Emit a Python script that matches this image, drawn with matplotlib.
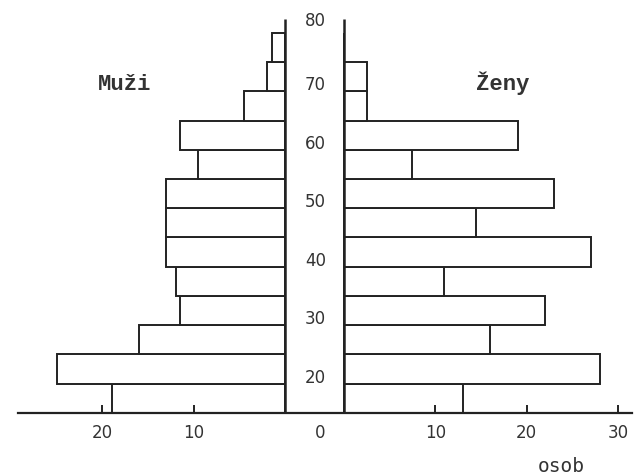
import matplotlib.pyplot as plt

# vekove skupiny (spodni hranice, po 5 letech)
vek = [15, 20, 25, 30, 35, 40, 45, 50, 55, 60, 65, 70, 75]
muzi = [19, 25, 16, 11.5, 12, 13, 13, 13, 9.5, 11.5, 4.5, 2, 1.5]
zeny = [13, 28, 16, 22, 11, 27, 14.5, 23, 7.5, 19, 2.5, 2.5, 0]

vek_popisky = [20, 30, 40, 50, 60, 70, 80]
osa_x_hodnoty = [20, 10, 0, 10, 20, 30]

mezera = 3.2      # polovina mezery mezi obema polovinami
barva = '#222222'

fig = plt.figure(figsize=(6.42, 4.75), dpi=100)
ax = fig.add_axes([0, 0, 1, 1])

ax.barh(vek, [-m for m in muzi], left=-mezera, height=5, align='edge',
        facecolor='white', edgecolor=barva, linewidth=1.4)
ax.barh(vek, zeny, left=mezera, height=5, align='edge',
        facecolor='white', edgecolor=barva, linewidth=1.4)

# svisle osy uprostred
ax.vlines([-mezera, mezera], 15, 82.4, color=barva, linewidth=1.8)

ax.set_xlim(-34.4, 35.8)
ax.set_ylim(4.4, 85.6)

for s in ['left', 'right', 'top']:
    ax.spines[s].set_visible(False)
ax.spines['bottom'].set_position(('data', 15))
ax.spines['bottom'].set_bounds(-32.4, 34.7)
ax.spines['bottom'].set_color(barva)
ax.spines['bottom'].set_linewidth(1.6)

pozice = []
for i, h in enumerate(osa_x_hodnoty):
    if i < 2:
        pozice.append(-mezera - h)
    elif i == 2:
        pozice.append(0.6)
    else:
        pozice.append(mezera + h)
ax.set_xticks(pozice)
ax.set_xticklabels([str(h) for h in osa_x_hodnoty], fontsize=12,
                   family='DejaVu Sans', color='#333333')
ax.tick_params(axis='x', direction='in', length=6, width=1.4, pad=8, color=barva)
ax.xaxis.get_major_ticks()[2].tick1line.set_visible(False)
ax.set_yticks([])

for v in vek_popisky:
    y = v + 1 if v < 80 else v + 2
    ax.text(0.1, y, str(v), ha='center', va='center', fontsize=12,
            family='DejaVu Sans', color='#333333')

ax.text(-20.8, 71.1, 'Muži', ha='center', va='center', fontsize=16,
        family=['Liberation Mono', 'DejaVu Sans Mono'], weight='bold', color='#333333')
ax.text(20.6, 71.4, 'Ženy', ha='center', va='center', fontsize=16,
        family=['Liberation Mono', 'DejaVu Sans Mono'], weight='bold', color='#333333')
ax.text(27.0, 5.9, 'osob', ha='center', va='center', fontsize=14,
        family='DejaVu Sans Mono', color='#333333')

fig.savefig('out.png', dpi=100)
